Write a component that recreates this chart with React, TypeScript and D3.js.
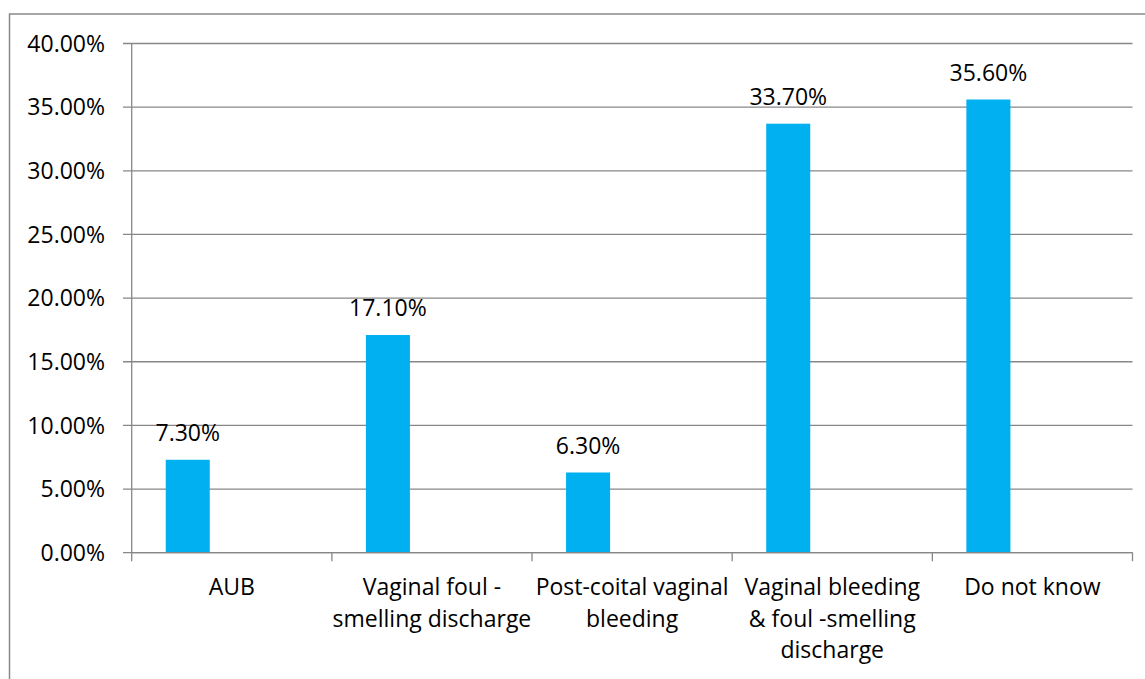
import React from "react";
import * as d3 from "d3";

const categories: string[] = [
  "AUB",
  "Vaginal foul -\nsmelling discharge",
  "Post-coital vaginal\nbleeding",
  "Vaginal bleeding\n& foul -smelling\ndischarge",
  "Do not know",
];
const values: number[] = [7.3, 17.1, 6.3, 33.7, 35.6];
const seriesSlots: string[] = ["s1", "s2", "s3"];
const yTicks: number[] = [0, 5, 10, 15, 20, 25, 30, 35, 40];

const W = 1145;
const H = 679;
const FONT = "'Open Sans', sans-serif";

export default function App() {
  const left = 131.7;
  const right = 1132.5;
  const top = 43.5;
  const bottom = 552.7;

  const y = d3.scaleLinear().domain([0, 40]).range([bottom, top]);
  const x0 = d3.scaleBand<string>().domain(categories).range([left, right]).padding(0);
  const x1 = d3
    .scaleBand<string>()
    .domain(seriesSlots)
    .range([0, x0.bandwidth()])
    .paddingInner(0)
    .paddingOuter(0.773);

  const grid = "#878787";
  const fs = 23;

  return (
    <svg
      width={W}
      height={H}
      style={{ position: "absolute", left: 0, top: 0, background: "#fff" }}
      fontFamily={FONT}
    >
      <rect x={0} y={0} width={W} height={H} fill="#fff" />
      <rect x={9.5} y={14} width={W + 20} height={H + 20} fill="none" stroke="#898989" strokeWidth={1.5} />

      {yTicks.map((t) => (
        <g key={t}>
          <line x1={123} x2={right} y1={y(t)} y2={y(t)} stroke={grid} strokeWidth={1.3} />
          <text
            x={105}
            y={y(t)}
            dy="0.36em"
            textAnchor="end"
            fontSize={fs}
            fill="#000"
          >
            {d3.format(".2f")(t) + "%"}
          </text>
        </g>
      ))}

      {categories.map((c, i) => (
        <g key={c}>
          <rect
            x={(x0(c) as number) + (x1("s1") as number)}
            y={y(values[i])}
            width={x1.bandwidth()}
            height={bottom - y(values[i])}
            fill="#00B0F0"
          />
          <text
            x={(x0(c) as number) + (x1("s1") as number) + x1.bandwidth() / 2}
            y={y(values[i]) - 19}
            textAnchor="middle"
            fontSize={fs}
            fill="#000"
          >
            {d3.format(".2f")(values[i]) + "%"}
          </text>
          {c.split("\n").map((line, j) => (
            <text
              key={j}
              x={(x0(c) as number) + x0.bandwidth() / 2}
              y={595 + j * 31.5}
              textAnchor="middle"
              fontSize={fs}
              fill="#000"
            >
              {line}
            </text>
          ))}
        </g>
      ))}

      <line x1={left} x2={left} y1={top} y2={bottom} stroke={grid} strokeWidth={1.3} />
      <line x1={left} x2={right} y1={bottom} y2={bottom} stroke={grid} strokeWidth={1.3} />
      {[...categories.map((c) => x0(c) as number), right].map((xv, i) => (
        <line key={i} x1={xv} x2={xv} y1={bottom} y2={bottom + 8.5} stroke={grid} strokeWidth={1.3} />
      ))}
    </svg>
  );
}
